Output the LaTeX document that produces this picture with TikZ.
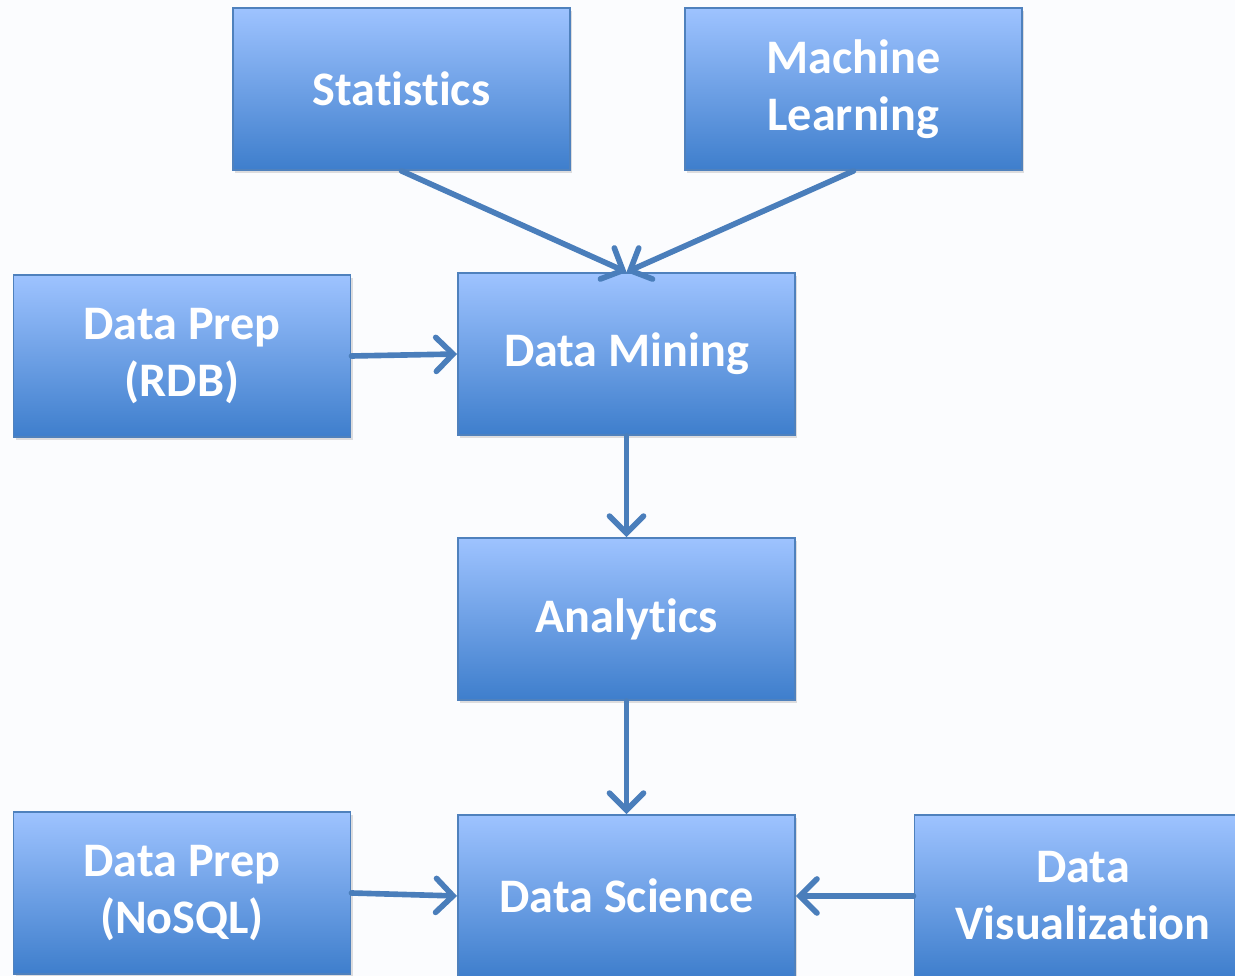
\documentclass[tikz,border=0pt]{standalone}
\usepackage{fontspec}
\setmainfont[Ligatures={NoCommon,NoRare,NoDiscretionary}]{Carlito}
\usetikzlibrary{arrows.meta,shadows}

\definecolor{boxtop}{RGB}{158,195,255}
\definecolor{boxbot}{RGB}{62,126,204}
\definecolor{boxline}{RGB}{79,129,189}
\definecolor{flow}{RGB}{74,126,187}
\definecolor{paper}{RGB}{251,252,254}

\begin{document}
\begin{tikzpicture}[
  x=0.01cm, y=-0.01cm,
  font=\bfseries\fontsize{13.7}{16.2}\selectfont,
  topic/.style={draw=boxline, line width=0.5pt, top color=boxtop, bottom color=boxbot,
                text=white, align=center, minimum width=3.37cm, minimum height=1.62cm,
                inner sep=0pt,
                drop shadow={shadow xshift=0.6pt, shadow yshift=-0.8pt, opacity=0.25}},
  feed/.style={draw=flow, line width=1.6pt, line cap=round,
               -{Straight Barb[length=1.7mm, width=3.4mm, line cap=round]}}
]
\fill[paper] (0,0) rectangle (1235,976);
\clip (0,0) rectangle (1235,976);
\node[topic] (stat) at (401.5,89) {Statistics};
\node[topic] (ml) at (853.5,89) {Machine\\Learning};
\node[topic] (rdb) at (182,356) {Data Prep\\(RDB)};
\node[topic] (mine) at (626.5,354) {Data Mining};
\node[topic] (anal) at (626.5,619) {Analytics};
\node[topic] (nosql) at (182,893) {Data Prep\\(NoSQL)};
\node[topic] (sci) at (626.5,896) {Data Science};
\node[topic] (viz) at (1083,896) {Data\\Visualization};
\draw[feed] (stat.south) -- (mine.north);
\draw[feed] (ml.south) -- (mine.north);
\draw[feed] (rdb.east) -- (mine.west);
\draw[feed] (mine.south) -- (anal.north);
\draw[feed] (anal.south) -- (sci.north);
\draw[feed] (nosql.east) -- (sci.west);
\draw[feed] (viz.west) -- (sci.east);
\end{tikzpicture}
\end{document}
